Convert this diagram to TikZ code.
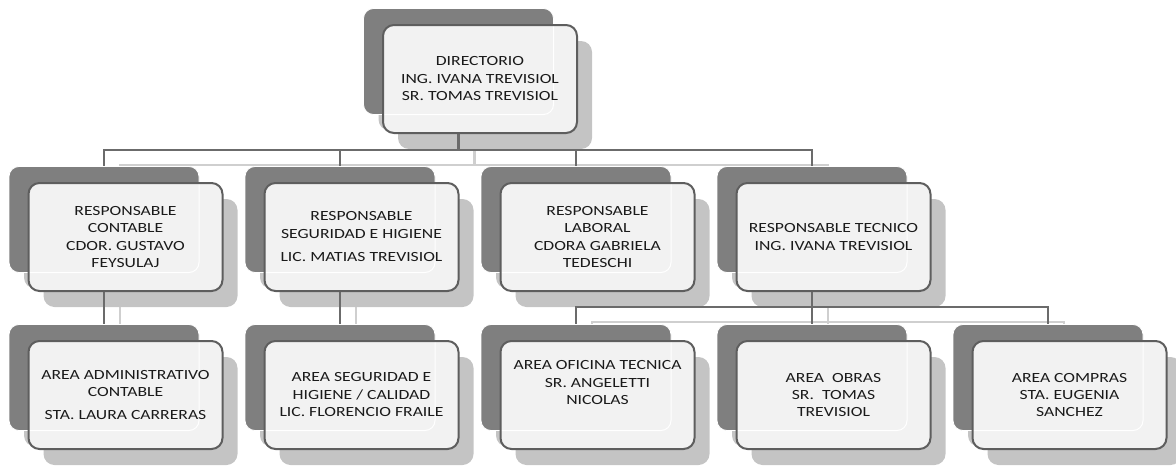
\documentclass[tikz,border=0pt]{standalone}
\usepackage{fontspec}
\setmainfont{Carlito}[FakeStretch=1.26]
\usetikzlibrary{calc}
\pgfdeclarelayer{lightlines}
\pgfdeclarelayer{shadows}
\pgfdeclarelayer{darklines}
\pgfdeclarelayer{darkboxes}
\pgfsetlayers{lightlines,shadows,darklines,darkboxes,main}
\definecolor{dkfill}{HTML}{7F7F7F}
\definecolor{frontfill}{HTML}{F2F2F2}
\definecolor{frontline}{HTML}{5E5E5E}
\definecolor{shad}{HTML}{C4C4C4}
\definecolor{dkline}{HTML}{6B6B6B}
\definecolor{ltline}{HTML}{CFCFCF}
\definecolor{txt}{HTML}{1A1A1A}
\tikzset{
  frontbox/.style={draw=frontline, line width=2pt, fill=frontfill, rounded corners=11pt,
    minimum width=194pt, minimum height=108pt, inner sep=0pt, outer sep=0pt, align=center,
    text=txt, font=\fontsize{14}{17.5}\selectfont},
  darkbox/.style={fill=dkfill, draw=white, line width=0.8pt, rounded corners=10pt,
    minimum width=190pt, minimum height=106pt, inner sep=0pt, outer sep=0pt},
  shadowbox/.style={fill=shad, rounded corners=11pt, inner sep=0pt, outer sep=0pt},
  darkline/.style={draw=dkline, line width=2.2pt},
  lightline/.style={draw=ltline, line width=2.2pt, transform canvas={shift={(16pt,-15pt)}}},
}
\newcommand\orgunit[4]{%
  \begin{pgfonlayer}{shadows}
    \node[shadowbox, minimum width=190pt, minimum height=106pt] (sd#1) at ({#2-21.5+15},{#3-17.5+16}) {};
    \node[shadowbox, minimum width=194pt, minimum height=108pt] (s#1) at ({#2+15},{#3+16}) {};
  \end{pgfonlayer}
  \begin{pgfonlayer}{darkboxes}
    \node[darkbox] (d#1) at ({#2-21.5},{#3-17.5}) {};
  \end{pgfonlayer}
  \node[frontbox, path picture={\draw[white, line width=1pt, rounded corners=10pt] (d#1.south west) rectangle (d#1.north east);}] (#1) at (#2,#3) {#4};
}
\begin{document}
\begin{tikzpicture}[x=1pt,y=-1pt]
\useasboundingbox (0,0) rectangle (1176,466);
\orgunit{dir}{480}{79}{DIRECTORIO\\ING. IVANA TREVISIOL\\SR. TOMAS TREVISIOL}
\orgunit{r1}{125.5}{237}{RESPONSABLE\\CONTABLE\\CDOR. GUSTAVO\\FEYSULAJ}
\orgunit{r2}{361.5}{237}{RESPONSABLE\\SEGURIDAD E HIGIENE\\[6pt]LIC. MATIAS TREVISIOL}
\orgunit{r3}{597.5}{237}{RESPONSABLE\\LABORAL\\CDORA GABRIELA\\TEDESCHI}
\orgunit{r4}{833.5}{237}{RESPONSABLE TECNICO\\ING. IVANA TREVISIOL}
\orgunit{a1}{125.5}{395}{AREA ADMINISTRATIVO\\CONTABLE\\[5pt]STA. LAURA CARRERAS}
\orgunit{a2}{361.5}{395}{AREA SEGURIDAD E\\HIGIENE / CALIDAD\\LIC. FLORENCIO FRAILE}
\orgunit{a3}{597.5}{395}{AREA OFICINA TECNICA\\SR. ANGELETTI\\NICOLAS\\[7pt]\mbox{}}
\orgunit{a4}{833.5}{395}{AREA\ \ OBRAS\\SR.\ \ TOMAS\\TREVISIOL}
\orgunit{a5}{1069.5}{395}{AREA COMPRAS\\STA. EUGENIA\\SANCHEZ}
\coordinate (bus1) at (0,150);
\coordinate (bus2) at (0,307);
\begin{pgfonlayer}{darklines}
  \foreach \c in {r1,r2,r3,r4} \draw[darkline] (ddir.center) -- (ddir.center |- bus1) -| (d\c.north);
  \draw[darkline] (dr1.center) -- (da1.north);
  \draw[darkline] (dr2.center) -- (da2.north);
  \foreach \c in {a3,a4,a5} \draw[darkline] (dr4.center) -- (dr4.center |- bus2) -| (d\c.north);
\end{pgfonlayer}
\begin{pgfonlayer}{lightlines}
  \foreach \c in {r1,r2,r3,r4} \draw[lightline] (ddir.center) -- (ddir.center |- bus1) -| (d\c.north);
  \draw[lightline] (dr1.center) -- (da1.north);
  \draw[lightline] (dr2.center) -- (da2.north);
  \foreach \c in {a3,a4,a5} \draw[lightline] (dr4.center) -- (dr4.center |- bus2) -| (d\c.north);
\end{pgfonlayer}
\end{tikzpicture}
\end{document}
